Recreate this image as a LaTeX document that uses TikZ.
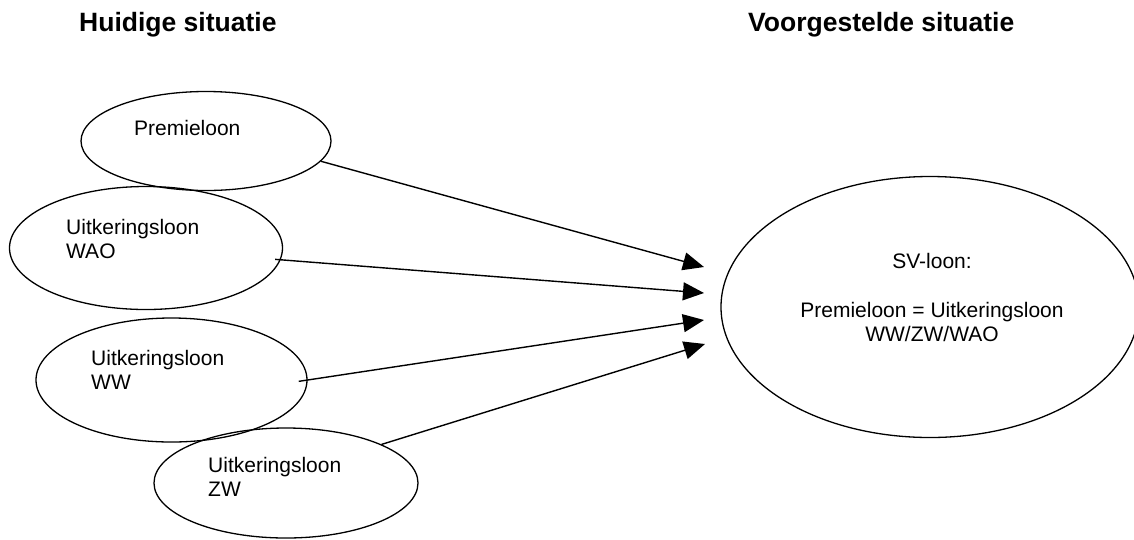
\documentclass[tikz,border=0pt]{standalone}
\usepackage{fontspec}
\setmainfont{Liberation Sans}
\usetikzlibrary{arrows.meta,shapes.geometric}
\begin{document}
\begin{tikzpicture}[x=1pt,y=-1pt,
  oval/.style={draw,ellipse,line width=1.3pt,inner sep=0pt},
  lbl/.style={anchor=base west,inner sep=0pt,align=left,font=\fontsize{21}{24}\selectfont},
  title/.style={anchor=base west,inner sep=0pt,font=\fontsize{26.5}{30}\selectfont\bfseries},
  conn/.style={line width=1.4pt,-{Triangle[length=21pt,width=18pt]}}
]
\useasboundingbox (0,0) rectangle (1134,539);

\node[title] (th) at (79,31.7) {Huidige situatie};
\node[title] (tv) at (748,31.7) {Voorgestelde situatie};

\node[oval,minimum width=250pt,minimum height=99pt] (pre) at (206,141) {};
\node[oval,minimum width=273pt,minimum height=123pt] (wao) at (146,248) {};
\node[oval,minimum width=271pt,minimum height=124pt] (ww) at (171.5,380) {};
\node[oval,minimum width=264pt,minimum height=110pt] (zw) at (286,483) {};
\node[oval,minimum width=418pt,minimum height=261pt] (sv) at (930,307) {};

\node[lbl] (lpre) at (134,135) {Premieloon};
\node[lbl] (lwao) at (66,258.3) {Uitkeringsloon\\WAO};
\node[lbl] (lww) at (91,389) {Uitkeringsloon\\WW};
\node[lbl] (lzw) at (208,496.7) {Uitkeringsloon\\ZW};
\node[anchor=base,inner sep=0pt,align=center,font=\fontsize{21}{24}\selectfont] (lsv) at (932,341.7)
  {SV-loon:\\[25pt]Premieloon = Uitkeringsloon\\WW/ZW/WAO};

\coordinate (e1) at (704,267);
\coordinate (e2) at (704,293);
\coordinate (e3) at (704,320);
\coordinate (e4) at (705,344);

\draw[conn] (pre.-10.7) -- (e1);
\draw[conn,shorten <=-5.6pt] (wao.-5.4) -- (e2);
\draw[conn,shorten <=-9pt] (ww.0) -- (e3);
\draw[conn] (zw.22.9) -- (e4);
\end{tikzpicture}
\end{document}
